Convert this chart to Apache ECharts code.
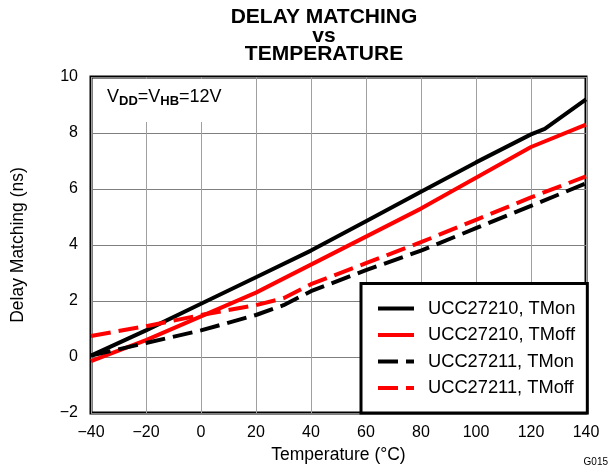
<!DOCTYPE html>
<html>
<head>
<meta charset="utf-8">
<script src="https://cdn.jsdelivr.net/npm/echarts@6/dist/echarts.min.js"></script>
<style>
html,body{margin:0;padding:0;background:#fff;}
#main{width:612px;height:471px;}
</style>
</head>
<body>
<div id="main"></div>
<script>
// ---- data ----
const seriesNames = ['UCC27210, TMon', 'UCC27210, TMoff', 'UCC27211, TMon', 'UCC27211, TMoff'];
const tempA = [-40, -20, 0, 20, 40, 60, 80, 100, 120, 125, 140];
const valA  = [0.05, 0.95, 1.9, 2.85, 3.8, 4.85, 5.9, 6.95, 7.95, 8.15, 9.2];
const tempB = [-40, -20, 0, 20, 28, 40, 60, 80, 100, 120, 140];
const valB  = [-0.15, 0.6, 1.45, 2.3, 2.7, 3.3, 4.3, 5.3, 6.4, 7.5, 8.3];
const tempC = [-40, -20, 0, 20, 30, 40, 60, 80, 100, 120, 140];
const valC  = [0.05, 0.5, 0.95, 1.5, 1.85, 2.35, 3.1, 3.8, 4.6, 5.4, 6.2];
const tempD = [-40, -20, 0, 20, 30, 40, 60, 80, 100, 120, 140];
const valD  = [0.75, 1.1, 1.5, 1.85, 2.1, 2.6, 3.35, 4.1, 4.9, 5.7, 6.45];
const xTicks = [-40, -20, 0, 20, 40, 60, 80, 100, 120, 140];
const yTicks = [-2, 0, 2, 4, 6, 8, 10];
const titleLines = ['DELAY MATCHING', 'vs', 'TEMPERATURE'];

const pairs = (t, v) => t.map((x, i) => [x, v[i]]);
const fmt = v => (v < 0 ? '\u2212' + Math.abs(v) : String(v));
const FONT = '"Liberation Sans", Arial, Helvetica, sans-serif';

const chart = echarts.init(document.getElementById('main'), null, {renderer: 'canvas'});
const lineSeries = (name, data, color, dashed) => ({
  name, type: 'line', data, symbol: 'none', smooth: false, z: 3,
  lineStyle: {color, width: 4, type: dashed ? [20, 8] : 'solid', cap: 'butt'},
  itemStyle: {color}
});
const titleY = [17.5, 36, 54.5];
const titleText = titleLines.map((t, i) => ({
  type: 'text', z: 5,
  style: {text: t, x: 324, y: titleY[i], textAlign: 'center', textVerticalAlign: 'middle',
    fontFamily: FONT, fontSize: 21, fontWeight: 'bold', fill: '#000'}
}));

chart.setOption({
  animation: false,
  backgroundColor: '#fff',
  textStyle: {fontFamily: FONT},
  grid: {
    left: 91, right: 26, top: 77, bottom: 58,
    show: true, borderColor: '#000', borderWidth: 3, backgroundColor: 'transparent'
  },
  xAxis: {
    type: 'value', min: -40, max: 140, interval: 20,
    name: 'Temperature (\u00B0C)', nameLocation: 'middle', nameGap: 31,
    nameTextStyle: {fontFamily: FONT, fontSize: 17.5, color: '#000'},
    axisLine: {show: false}, axisTick: {show: false},
    axisLabel: {fontFamily: FONT, fontSize: 16, color: '#000', margin: 12,
      formatter: v => xTicks.includes(v) ? fmt(v) : ''},
    splitLine: {show: true, lineStyle: {color: '#a0a0a0', width: 1}}
  },
  yAxis: {
    type: 'value', min: -2, max: 10, interval: 2,
    name: 'Delay Matching (ns)', nameLocation: 'middle', nameGap: 64,
    nameTextStyle: {fontFamily: FONT, fontSize: 17.5, color: '#000'},
    axisLine: {show: false}, axisTick: {show: false},
    axisLabel: {fontFamily: FONT, fontSize: 16, color: '#000', margin: 13,
      formatter: v => yTicks.includes(v) ? fmt(v) : ''},
    splitLine: {show: true, lineStyle: {color: '#808080', width: 1}}
  },
  legend: {
    orient: 'vertical', left: 361, bottom: 58,
    data: seriesNames,
    itemWidth: 36, itemHeight: 14, itemGap: 8.5,
    padding: [16, 12, 16, 15],
    backgroundColor: '#fff', borderColor: '#000', borderWidth: 3,
    itemStyle: {opacity: 0},
    lineStyle: {width: 4},
    textStyle: {fontFamily: FONT, fontSize: 18.3, color: '#000', padding: [0, 0, 0, 9]},
    z: 10
  },
  graphic: [
    {type: 'rect', z: 1, shape: {x: 93, y: 79, width: 160, height: 43}, style: {fill: '#fff'}, silent: true},
    {type: 'text', z: 5, left: 107, top: 88,
      style: {
        text: 'V{sub|DD}=V{sub|HB}=12V',
        fontFamily: FONT, fontSize: 18, fill: '#000',
        rich: {sub: {fontFamily: FONT, fontSize: 13, fontWeight: 'bold', fill: '#000', padding: [8, 0, 0, 0]}}
      }},
    {type: 'text', z: 5, right: 4, top: 457,
      style: {text: 'G015', fontFamily: FONT, fontSize: 10, fill: '#000'}}
  ].concat(titleText),
  series: [
    lineSeries(seriesNames[0], pairs(tempA, valA), '#000', false),
    lineSeries(seriesNames[1], pairs(tempB, valB), '#ff0000', false),
    lineSeries(seriesNames[2], pairs(tempC, valC), '#000', true),
    lineSeries(seriesNames[3], pairs(tempD, valD), '#ff0000', true)
  ]
});
</script>
</body>
</html>
